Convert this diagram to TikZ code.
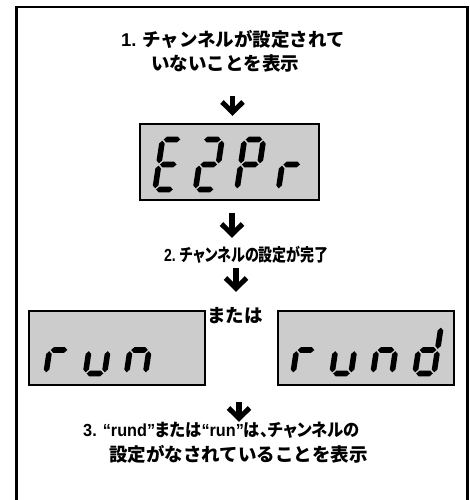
\documentclass[tikz,border=0pt]{standalone}
\usepackage{fontspec}
\setmainfont{Noto Sans CJK JP}
\newfontfamily\lat{Liberation Sans}
\newfontfamily\jpp{Noto Sans CJK JP}[RawFeature=+palt]
\definecolor{lcd}{RGB}{204,204,204}
\def\sht{2.8}
\def\gp{1.2}
\def\dW{19}
\def\dH{50}
\newcommand\hsegm[3]{\fill (#1,#3) -- ({#1+\sht},{#3+\sht}) -- ({#2-\sht},{#3+\sht}) -- (#2,#3) -- ({#2-\sht},{#3-\sht}) -- ({#1+\sht},{#3-\sht}) -- cycle;}
\newcommand\vsegm[3]{\fill (#1,#2) -- ({#1+\sht},{#2+\sht}) -- ({#1+\sht},{#3-\sht}) -- (#1,#3) -- ({#1-\sht},{#3-\sht}) -- ({#1-\sht},{#2+\sht}) -- cycle;}
\newcommand\sga{\hsegm{\gp}{\dW-\gp}{\dH}}
\newcommand\sgb{\vsegm{\dW}{\dH/2+\gp}{\dH-\gp}}
\newcommand\sgc{\vsegm{\dW}{\gp}{\dH/2-\gp}}
\newcommand\sgd{\hsegm{\gp}{\dW-\gp}{0}}
\newcommand\sge{\vsegm{0}{\gp}{\dH/2-\gp}}
\newcommand\sgf{\vsegm{0}{\dH/2+\gp}{\dH-\gp}}
\newcommand\sgg{\hsegm{\gp}{\dW-\gp}{\dH/2}}
\newcommand\digitat[3]{\begin{scope}[shift={(#1,#2)},xslant=0.15]#3\end{scope}}
\newcommand\downarrowat[4]{%
  \coordinate (#1-top) at (#2,#3);
  \coordinate (#1-tip) at (#2,#4);
  \draw[arrowshaft] (#1-top) -- ([yshift=3pt]#1-tip);
  \draw[arrowhead] ([xshift=-10.5pt,yshift=14pt]#1-tip) -- ([yshift=3.6pt]#1-tip) -- ([xshift=10.5pt,yshift=14pt]#1-tip);}
\begin{document}
\begin{tikzpicture}[x=1pt,y=1pt,
  lbl/.style={inner sep=0pt,anchor=base west,font=\fontsize{18.5}{20}\selectfont\bfseries},
  display/.style={draw=black,line width=2pt,fill=lcd},
  arrowshaft/.style={line width=5.5pt},
  arrowhead/.style={line width=5pt,line join=miter,miter limit=10}]
\useasboundingbox (0,0) rectangle (470,500);
% frame
\draw[line width=2.4pt] (16.3,0) -- (16.3,493) -- (467.5,493) -- (467.5,0);
% texts
\node[lbl] (t1a) at (121,453.3) {{\lat 1.} チャンネルが設定されて};
\node[lbl] (t1b) at (151,429.3) {いないことを表示};
\node[lbl,font=\fontsize{17.5}{20}\selectfont\bfseries] (t2) at (164,238.5) {\scalebox{0.8}[1]{{\lat 2.} {\jpp チャンネルの設定が完了}}};
\node[lbl,font=\fontsize{18.5}{20}\selectfont\bfseries] (or) at (207,177.5) {または};
\node[lbl,font=\fontsize{17.5}{20}\selectfont\bfseries] (t3a) at (83,63.3) {\scalebox{0.93}[1]{{\lat 3. “rund”}{\jpp または}{\lat “run”}{\jpp は、チャンネルの}}};
\node[lbl] (t3b) at (109,38.3) {設定がなされていることを表示};
% arrows
\downarrowat{a1}{232.5}{404}{384}
\downarrowat{a2}{232}{287}{262}
\downarrowat{a3}{236}{232}{208}
\downarrowat{a4}{239}{98}{78}
% display E2Pr
\node[display,minimum width=179pt,minimum height=76pt,inner sep=0pt] (d1) at (229.5,338) {};
\digitat{155}{310.5}{\sga\sgd\sge\sgf\sgg}
\digitat{195.5}{310.5}{\sga\sgb\sgg\sge\sgd}
\digitat{237}{310.5}{\sga\sgb\sgf\sgg\sge}
\digitat{278.5}{310.5}{\sge\sgg}
% display run
\def\dH{47}
\node[display,minimum width=176pt,minimum height=74pt,inner sep=0pt] (d2) at (117,152) {};
\digitat{46}{126.5}{\sge\sgg}
\digitat{85.5}{126.5}{\sgc\sgd\sge}
\digitat{126.5}{126.5}{\sge\sgg\sgc}
% display rund
\node[display,minimum width=176pt,minimum height=74pt,inner sep=0pt] (d3) at (365.5,152) {};
\digitat{293}{126.5}{\sge\sgg}
\digitat{332}{126.5}{\sgc\sgd\sge}
\digitat{373}{126.5}{\sge\sgg\sgc}
\digitat{415}{126.5}{\sgb\sgc\sgd\sge\sgg}
\end{tikzpicture}
\end{document}
